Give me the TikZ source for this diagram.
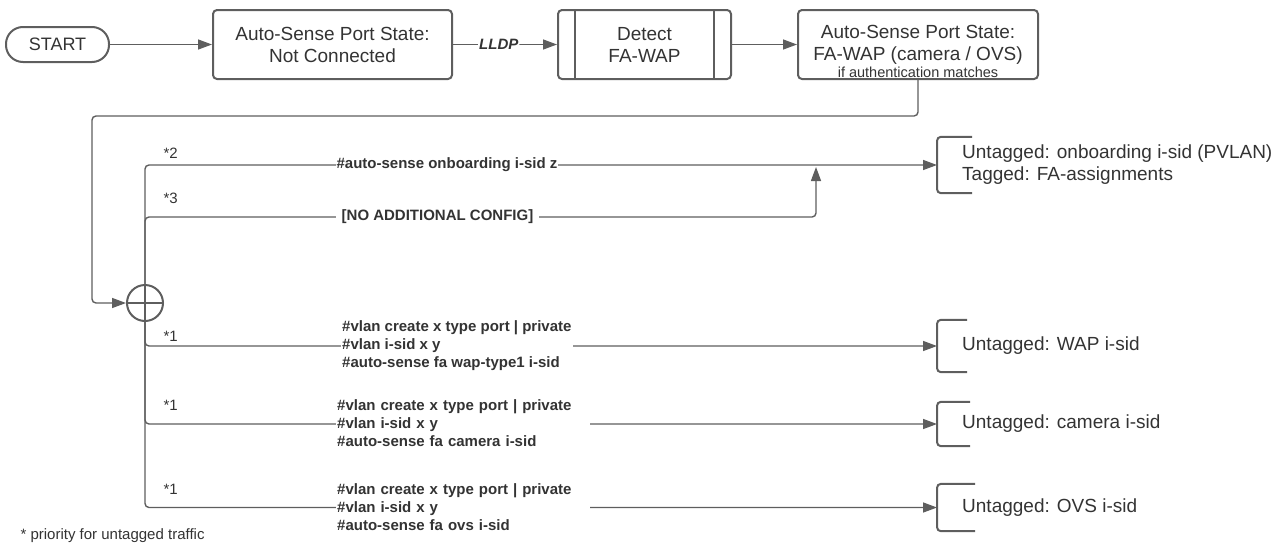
\documentclass[tikz,border=0pt]{standalone}
\usepackage{fontspec}
\setmainfont{Liberation Sans}
\usetikzlibrary{arrows.meta}
\definecolor{lcline}{RGB}{94,94,94}
\definecolor{lctext}{RGB}{51,51,51}
\begin{document}
\begin{tikzpicture}
[x=1pt, y=-1pt,
 state/.style={draw=lcline, line width=2pt, rounded corners=4pt, minimum height=69pt, align=center, text=lctext, font=\fontsize{19}{22}\selectfont},
 flow/.style={draw=lcline, line width=1.4pt, rounded corners=4pt, -{Triangle[length=14pt,width=10pt]}},
 cmd/.style={fill=white, align=left, text=lctext, inner xsep=1pt, inner ysep=0pt, font=\bfseries\fontsize{15}{18}\selectfont},
 prio/.style={anchor=west, text=lctext, font=\fontsize{15}{18}\selectfont},
 result/.style={anchor=west, align=left, inner xsep=25pt, text=lctext, font=\fontsize{19}{22}\selectfont},
 brk/.style={draw=lcline, line width=2pt, rounded corners=4pt}]
\useasboundingbox (0,0) rectangle (1284,544);
\node [state, minimum width=103pt, minimum height=35pt, rounded corners=17pt, font=\fontsize{18}{22}\selectfont] (start) at (57.5,44.5) {START};
\node [state, minimum width=239pt] (nc) at (332.5,44.5) {Auto-Sense Port State:\\Not Connected};
\node [state, minimum width=173pt] (detect) at (644.5,44.5) {Detect\\FA-WAP};
\node [state, minimum width=240pt] (fawap) at (918,44.5) {Auto-Sense Port State:\\FA-WAP (camera / OVS)};
\node [text=lctext, font=\fontsize{14.5}{16}\selectfont] (authnote) at (918,72) {if authentication matches};
\draw [brk] ([xshift=18pt]detect.north west) -- ([xshift=18pt]detect.south west) ([xshift=-18pt]detect.north east) -- ([xshift=-18pt]detect.south east);
\node [circle, draw=lcline, line width=2pt, minimum size=36pt, inner sep=0pt] (join) at (145,303) {};
\draw [draw=lcline, line width=1.6pt] (join.north) -- (join.south) (join.west) -- (join.east);
\node [result, minimum height=56pt] (onb) at (937,165) {Untagged: onboarding i-sid (PVLAN)\\Tagged: FA-assignments};
\node [result, minimum height=52pt] (wap) at (937,346) {Untagged: WAP i-sid};
\node [result, minimum height=44pt] (cam) at (937,424) {Untagged: camera i-sid};
\node [result, minimum height=47pt] (ovs) at (937,507.5) {Untagged: OVS i-sid};
\foreach \r/\a in {onb/35,wap/30,cam/33,ovs/38}
  \draw [brk] ([xshift=\a pt]\r.north west) -- (\r.north west) -- (\r.south west) -- ([xshift=\a pt]\r.south west);
\draw [flow] (start) -- (nc);
\draw [flow] (nc) -- node [pos=0.44, fill=white, inner sep=1pt, text=lctext, font=\bfseries\itshape\fontsize{15}{18}\selectfont] (lldp) {LLDP} (detect);
\draw [flow] (detect) -- (fawap);
\coordinate (back) at (92,116);
\coordinate (merge) at (816,167);
\draw [flow] (fawap.south) |- (back) |- (join.west);
\draw [flow] (join.north) |- (onb.west);
\draw [flow] (join.north) -- ++(0,-67) -| (merge);
\draw [flow] (join.south) |- (wap.west);
\draw [flow] (join.south) |- (cam.west);
\draw [flow] (join.south) |- (ovs.west);
\node [cmd] (onbcmd) at (447,165) {\#auto-sense onboarding i-sid z};
\node [cmd, inner xsep=6pt] (nocfg) at (437.5,217) {[NO ADDITIONAL CONFIG]};
\node [cmd, anchor=west] (wapcmd) at (341,346) {\#vlan create x type port | private\\\#vlan i-sid x y\\\#auto-sense fa wap-type1 i-sid};
\node [cmd, anchor=west, text width=252pt] (camcmd) at (336,423.5) {\#vlan create x type port | private\\\#vlan i-sid x y\\\#auto-sense fa camera i-sid};
\node [cmd, anchor=west, text width=252pt] (ovscmd) at (336,507.5) {\#vlan create x type port | private\\\#vlan i-sid x y\\\#auto-sense fa ovs i-sid};
\foreach \p/\y in {2/153,3/198,1/336,1/405,1/489}
  \node [prio] (prio\y) at (160,\y) {*\p};
\node [prio] (footnote) at (17,536) {* priority for untagged traffic};
\end{tikzpicture}
\end{document}
